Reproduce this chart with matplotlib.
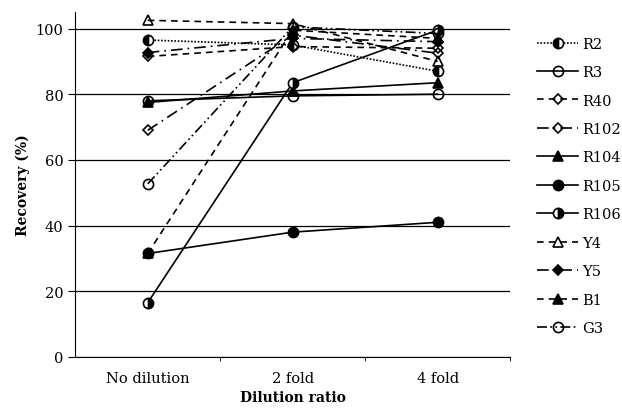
import matplotlib.pyplot as plt
import numpy as np

plt.rcParams['font.family'] = ['DejaVu Serif']

CATEGORIES = ['No dilution', '2 fold', '4 fold']
SERIES = ['R2', 'R3', 'R40', 'R102', 'R104', 'R105', 'R106', 'Y4', 'Y5', 'B1', 'G3']
R2 = [96.5, 95.0, 87.0]
R3 = [78.0, 79.5, 80.0]
R40 = [91.5, 94.5, 94.0]
R102 = [69.0, 98.0, 92.5]
R104 = [77.5, 81.0, 83.5]
R105 = [31.5, 38.0, 41.0]
R106 = [16.5, 83.5, 99.5]
Y4 = [102.5, 101.5, 90.0]
Y5 = [92.7, 97.0, 96.0]
B1 = [31.5, 99.5, 97.0]
G3 = [52.7, 100.5, 98.5]
VALUES = [R2, R3, R40, R102, R104, R105, R106, Y4, Y5, B1, G3]

# (linestyle, marker, fillstyle)
STYLES = [
    ((0, (1, 1)),          'o', 'left'),
    ('-',                  'o', 'none'),
    ((0, (4, 3)),          'D', 'none'),
    ((0, (7, 3, 1, 3)),    'D', 'none'),
    ('-',                  '^', 'full'),
    ('-',                  'o', 'full'),
    ('-',                  'o', 'right'),
    ((0, (4, 3)),          '^', 'none'),
    ((0, (7, 3, 1, 3)),    'D', 'full'),
    ((0, (4, 3)),          '^', 'full'),
    ((0, (6, 2, 1, 2, 1, 2)), 'o', 'none'),
]

fig = plt.figure(figsize=(6.22, 4.10), dpi=100)
ax = fig.add_axes([0.121, 0.127, 0.699, 0.841])

x = np.arange(len(CATEGORIES))
for name, vals, (ls, mk, fs) in zip(SERIES, VALUES, STYLES):
    ms = 5.5 if mk == 'D' else 7.3
    ax.plot(x, vals, ls=ls, color='black', lw=1.2, marker=mk, ms=ms,
            fillstyle=fs, markerfacecolor='black' if fs != 'none' else 'white',
            markerfacecoloralt='white', markeredgecolor='black',
            markeredgewidth=1.2, label=name, zorder=3)

ax.set_xlim(-0.5, 2.5)
ax.set_ylim(0, 105)
ax.set_yticks([0, 20, 40, 60, 80, 100])
ax.set_xticks(x)
ax.set_xticklabels(CATEGORIES)
ax.set_xticks([0.5, 1.5, 2.5], minor=True)
ax.tick_params(axis='x', which='major', length=0, pad=10, labelsize=10.5)
ax.tick_params(axis='x', which='minor', length=3, direction='out')
ax.tick_params(axis='y', length=5, direction='out', labelsize=10.5)
ax.grid(axis='y', color='black', lw=0.9, zorder=0)
for s in ('top', 'right'):
    ax.spines[s].set_visible(False)
ax.set_ylabel('Recovery (%)', fontweight='bold', fontsize=10)
ax.set_xlabel('Dilution ratio', fontweight='bold', fontsize=10, labelpad=4)

fig.legend(loc='upper left', bbox_to_anchor=(0.864, 0.908), frameon=False,
           fontsize=10.5, handlelength=2.8, handletextpad=0.3,
           labelspacing=0.99, numpoints=1, borderaxespad=0, borderpad=0)

fig.savefig('out.png', dpi=100)
